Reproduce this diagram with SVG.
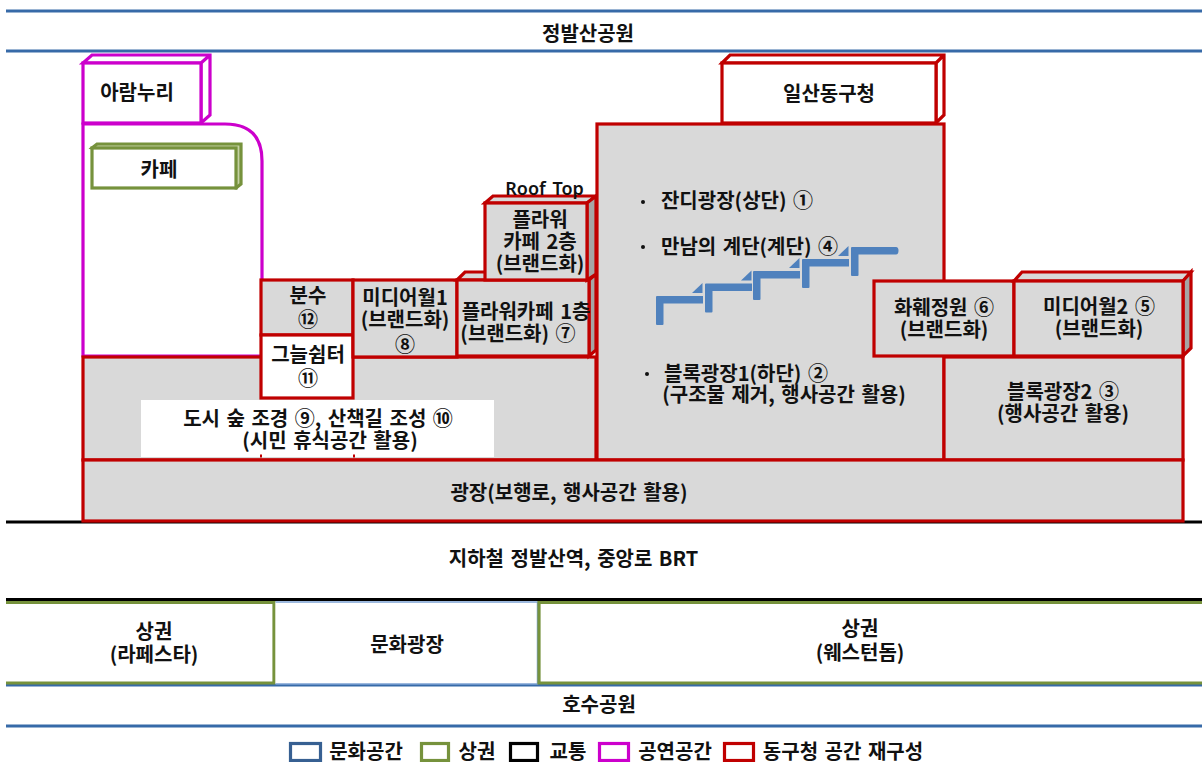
<svg xmlns="http://www.w3.org/2000/svg" width="1202" height="762" viewBox="0 0 1202 762">
<style>
text{font-family:"Noto Sans CJK KR","Noto Sans",sans-serif;font-size:20px;font-weight:700;fill:#111;text-anchor:middle;word-spacing:2px}
.r{stroke:#c00000;stroke-width:3.200;stroke-linejoin:miter}
.g{fill:#d9d9d9}.d{fill:#a6a6a6}.w{fill:#fff}
.m{stroke:#cc00cc;stroke-width:3.200;fill:#fff}
.gr{stroke:#76923c;stroke-width:3.200}
.bl{stroke:#376aa8;stroke-width:3;fill:none}
.s{fill:#4f81bd}
</style>
<defs>
<g id="stair"><path class="s" d="M0,28V1Q0,0 1,0H47V7.500H7.500V28Q7.500,29 6.500,29H1Q0,29 0,28Z"/><path class="s" d="M36,-3L46.500,-13V-3Z"/></g>
</defs>
<g id="lines">
<path class="bl" d="M6,11H1202M6,51H1202M6,685H1202M6,726H1202"/>
<path d="M6,522H1202M6,599.500H1202" stroke="#000" stroke-width="3" fill="none"/>
</g>
<g id="aramnuri"><path class="m" d="M83,63L92,55H210V115L201,123V63H83ZM210,55L201,63"/><rect class="m" x="83" y="63" width="118" height="60"/><text x="137" y="100">아람누리</text></g>
<g id="hall"><path class="m" d="M83,356V124H225Q262,124 262,161V356Z"/></g>
<g id="cafe"><path d="M92,148L97,144H241V184L236,188Z" fill="#c5d2a4" class="gr"/><rect class="gr w" x="92" y="148" width="144" height="40"/><text x="159" y="177">카페</text></g>
<g id="block1"><rect class="r g" x="83" y="357" width="513" height="103"/><rect x="141" y="400" width="353" height="57" fill="#fff"/><path d="M260,456H262M353,456H355" stroke="#c00000" stroke-width="3" fill="none"/><text y="426"><tspan x="318">도시 숲 조경 ⑨, 산책길 조성 ⑩</tspan><tspan x="330" dy="22">(시민 휴식공간 활용)</tspan></text></g>
<g id="fountain"><rect class="r g" x="261" y="280" width="92" height="55"/><text y="303"><tspan x="308">분수</tspan><tspan x="308" dy="24">⑫</tspan></text></g>
<g id="shade"><rect class="r w" x="261" y="335" width="92" height="63"/><text y="362"><tspan x="308">그늘쉼터</tspan><tspan x="308" dy="24">⑪</tspan></text></g>
<g id="mediawall1"><rect class="r g" x="353" y="280" width="104" height="77"/><text y="305"><tspan x="405">미디어월1</tspan><tspan x="405" dy="22">(브랜드화)</tspan><tspan x="405" dy="25">⑧</tspan></text></g>
<g id="flower1"><path class="r g" d="M457,280L465,272H490V280Z"/><path class="r d" d="M589,280L596,274V350L589,356Z"/><rect class="r g" x="457" y="280" width="132" height="76"/><text y="319"><tspan x="526">플라워카페 1층</tspan><tspan x="518" dy="22">(브랜드화) ⑦</tspan></text></g>
<g id="flower2"><path class="r g" d="M485,203L493,196H596L587,203Z"/><path class="r d" d="M587,203L596,196V274L587,280Z"/><rect class="r g" x="485" y="203" width="102" height="77"/><text y="227"><tspan x="540">플라워</tspan><tspan x="540" dy="22">카페 2층</tspan><tspan x="540" dy="22">(브랜드화)</tspan></text><text x="544.500" y="195" style="font-family:'Noto Sans',sans-serif;font-size:18px;font-weight:600">Roof Top</text></g>
<g id="office"><path class="r w" d="M722,63L730,55H944V115L936,123V63ZM944,55L936,63"/><rect class="r w" x="722" y="63" width="214" height="60"/><text x="829" y="101">일산동구청</text></g>
<g id="main"><rect class="r g" x="597" y="124" width="347" height="336"/>
<circle cx="643" cy="202" r="2" fill="#111"/><text x="737" y="208">잔디광장(상단) ①</text>
<circle cx="643" cy="247" r="2" fill="#111"/><text x="749.500" y="254">만남의 계단(계단) ④</text>
<circle cx="647" cy="374" r="2" fill="#111"/><text y="381"><tspan x="746">블록광장1(하단) ②</tspan><tspan x="784" dy="21">(구조물 제거, 행사공간 활용)</tspan></text>
</g>
<g id="stairs"><use href="#stair" x="656" y="296"/><use href="#stair" x="705" y="283.500"/><use href="#stair" x="753" y="271"/><use href="#stair" x="802" y="259"/><path class="s" d="M851,275V248Q851,247 852,247H896Q898.500,247 898.500,250.500Q898.500,254.500 896,254.500H858.500V275Q858.500,276 857.500,276H852Q851,276 851,275Z"/></g>
<g id="block2"><rect class="r g" x="944" y="357" width="239" height="103"/><text y="399"><tspan x="1063">블록광장2 ③</tspan><tspan x="1063" dy="22">(행사공간 활용)</tspan></text></g>
<g id="garden"><rect class="r g" x="874" y="281" width="140" height="75"/><text y="315"><tspan x="944">화훼정원 ⑥</tspan><tspan x="944" dy="22">(브랜드화)</tspan></text></g>
<g id="mediawall2"><path class="r g" d="M1014,281L1022,272H1191L1183,281Z"/><path class="r d" d="M1183,281L1191,272V348L1183,356Z"/><rect class="r g" x="1014" y="281" width="169" height="75"/><text y="314"><tspan x="1099">미디어월2 ⑤</tspan><tspan x="1099" dy="22">(브랜드화)</tspan></text></g>
<g id="plaza"><rect class="r g" x="83" y="460" width="1100" height="61"/><text x="569" y="500">광장(보행로, 행사공간 활용)</text></g>
<g id="park-top"><text x="588" y="41">정발산공원</text></g>
<g id="subway"><text x="573.500" y="566">지하철 정발산역, 중앙로 BRT</text></g>
<g id="shop1"><path class="gr" fill="#fff" d="M6,602.500H274V683H6"/><text y="639"><tspan x="154">상권</tspan><tspan x="154" dy="23">(라페스타)</tspan></text></g>
<g id="culture"><path d="M275.500,602H537.500V684H275.500" fill="#fff" stroke="#7ea3d3" stroke-width="1.500"/><text x="407" y="652">문화광장</text></g>
<g id="shop2"><path class="gr" fill="#fff" d="M1202,602.500H539V683H1202"/><text y="636"><tspan x="860">상권</tspan><tspan x="860" dy="24">(웨스턴돔)</tspan></text></g>
<g id="lake"><text x="599" y="712">호수공원</text></g>
<g id="legend">
<rect x="290.500" y="743.500" width="30" height="17" fill="#fff" stroke="#376092" stroke-width="3.200"/><text x="366" y="759">문화공간</text>
<rect x="421.500" y="743.500" width="27" height="17" fill="#fff" class="gr"/><text x="477" y="759">상권</text>
<rect x="510.500" y="743.500" width="27" height="17" fill="#fff" stroke="#000" stroke-width="3.200"/><text x="568" y="759">교통</text>
<rect x="599.500" y="743.500" width="29" height="17" class="m"/><text x="675" y="759">공연공간</text>
<rect x="724.500" y="743.500" width="29" height="17" class="r w"/><text x="843" y="759">동구청 공간 재구성</text>
</g>
</svg>
